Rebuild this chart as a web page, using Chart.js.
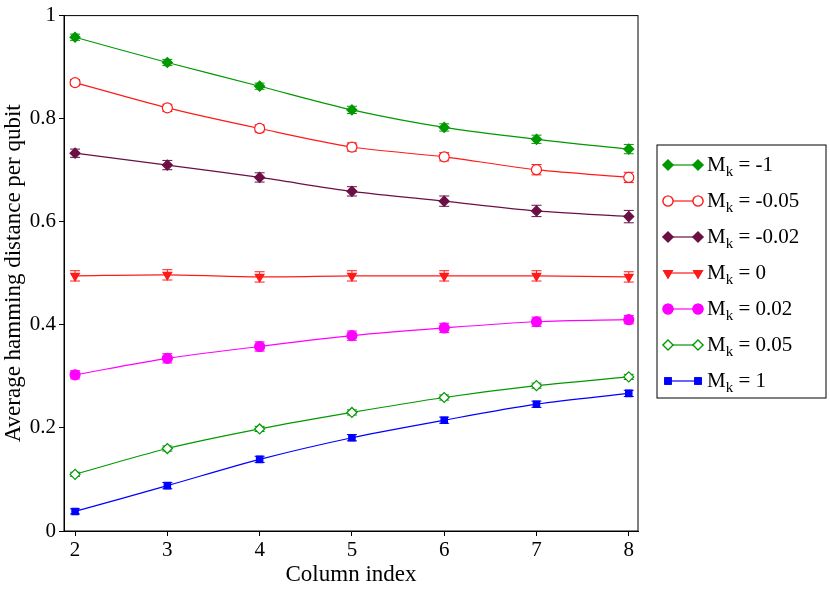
<!DOCTYPE html>
<html>
<head>
<meta charset="utf-8">
<script src="https://cdn.jsdelivr.net/npm/chart.js@4"></script>
<style>
  body { margin: 0; background: #fff; }
  #wrap { width: 830px; height: 589px; }
</style>
</head>
<body>
<div id="wrap"><canvas id="c"></canvas></div>
<script>
const columns = [2, 3, 4, 5, 6, 7, 8];
const labels = ["-1", "-0.05", "-0.02", "0", "0.02", "0.05", "1"];

const mNeg1 = [0.958, 0.909, 0.863, 0.817, 0.783, 0.760, 0.741];
const mNeg005 = [0.870, 0.821, 0.781, 0.745, 0.726, 0.701, 0.686];
const mNeg002 = [0.733, 0.710, 0.686, 0.659, 0.640, 0.621, 0.610];
const mZero = [0.495, 0.497, 0.493, 0.495, 0.495, 0.495, 0.493];
const mPos002 = [0.303, 0.335, 0.358, 0.379, 0.394, 0.406, 0.410];
const mPos005 = [0.110, 0.160, 0.198, 0.230, 0.259, 0.282, 0.299];
const mPos1 = [0.038, 0.088, 0.139, 0.181, 0.215, 0.246, 0.267];

const errNeg1 = [0.006, 0.006, 0.006, 0.007, 0.007, 0.008, 0.009];
const errNeg005 = [0.006, 0.007, 0.007, 0.008, 0.008, 0.010, 0.010];
const errNeg002 = [0.008, 0.009, 0.009, 0.009, 0.010, 0.011, 0.012];
const errZero = [0.010, 0.010, 0.010, 0.010, 0.010, 0.010, 0.010];
const errPos002 = [0.008, 0.009, 0.009, 0.009, 0.009, 0.009, 0.008];
const errPos005 = [0.004, 0.005, 0.005, 0.005, 0.005, 0.005, 0.005];
const errPos1 = [0.005, 0.006, 0.006, 0.006, 0.006, 0.006, 0.006];

const series = [
  { v: mNeg1, e: errNeg1, color: "#009900", style: "rectRot", fill: true, r: 5 },
  { v: mNeg005, e: errNeg005, color: "#ff1a1a", style: "circle", fill: false, r: 5 },
  { v: mNeg002, e: errNeg002, color: "#6b0f45", style: "rectRot", fill: true, r: 5 },
  { v: mZero, e: errZero, color: "#ff1a1a", style: "triangle", fill: true, r: 5, rot: 180 },
  { v: mPos002, e: errPos002, color: "#ff00ff", style: "circle", fill: true, r: 5 },
  { v: mPos005, e: errPos005, color: "#009900", style: "rectRot", fill: false, r: 5 },
  { v: mPos1, e: errPos1, color: "#0000ff", style: "rect", fill: true, r: 4.5 },
];

const datasets = series.map((s, i) => ({
  label: "M_k = " + labels[i],
  data: columns.map((x, j) => ({ x: x, y: s.v[j], err: s.e[j] })),
  borderColor: s.color,
  borderWidth: 1.2,
  pointStyle: s.style,
  pointRadius: s.r,
  pointRotation: s.rot || 0,
  pointBackgroundColor: s.fill ? s.color : "#fff",
  pointBorderColor: s.color,
  pointBorderWidth: 1.2,
  fill: false,
  tension: 0.3,
}));

const errorBars = {
  id: "errorBars",
  beforeDatasetsDraw(chart) {
    const ctx = chart.ctx;
    const xs = chart.scales.x, ys = chart.scales.y;
    chart.data.datasets.forEach((ds) => {
      ctx.save();
      ctx.strokeStyle = ds.borderColor;
      ctx.lineWidth = 1;
      ds.data.forEach((p) => {
        const px = xs.getPixelForValue(p.x);
        const top = ys.getPixelForValue(p.y + p.err);
        const bot = ys.getPixelForValue(p.y - p.err);
        ctx.beginPath();
        ctx.moveTo(px, top); ctx.lineTo(px, bot);
        ctx.moveTo(px - 5, top); ctx.lineTo(px + 5, top);
        ctx.moveTo(px - 5, bot); ctx.lineTo(px + 5, bot);
        ctx.stroke();
      });
      ctx.restore();
    });
  },
  afterDraw(chart) {
    const ctx = chart.ctx;
    const a = chart.chartArea;
    ctx.save();
    ctx.strokeStyle = "#000";
    ctx.lineWidth = 1;
    ctx.strokeRect(a.left, a.top, a.right - a.left, a.bottom - a.top);
    // legend
    const lx = 657, ly = 145, lw = 169, lh = 253;
    ctx.fillStyle = "#fff";
    ctx.fillRect(lx, ly, lw, lh);
    ctx.strokeRect(lx, ly, lw, lh);
    const step = 36;
    series.forEach((s, i) => {
      const cy = ly + 20 + i * step;
      ctx.strokeStyle = s.color;
      ctx.lineWidth = 1.2;
      ctx.beginPath();
      ctx.moveTo(668, cy); ctx.lineTo(698, cy);
      ctx.stroke();
      [668, 698].forEach((mx) => {
        ctx.fillStyle = s.fill ? s.color : "#fff";
        Chart.helpers.drawPoint(ctx, {
          pointStyle: s.style, radius: s.r, rotation: s.rot || 0, borderWidth: 1.2,
        }, mx, cy);
        ctx.fill();
        ctx.stroke();
      });
      ctx.fillStyle = "#000";
      ctx.textBaseline = "middle";
      ctx.font = "21px 'Liberation Serif'";
      ctx.fillText("M", 707, cy);
      const mw = ctx.measureText("M").width;
      ctx.font = "15px 'Liberation Serif'";
      ctx.fillText("k", 707 + mw, cy + 7);
      const kw = ctx.measureText("k").width;
      ctx.font = "21px 'Liberation Serif'";
      ctx.fillText(" = " + labels[i], 707 + mw + kw, cy);
    });
    ctx.restore();
  },
};

new Chart(document.getElementById("c"), {
  type: "line",
  data: { datasets },
  options: {
    responsive: true,
    maintainAspectRatio: false,
    animation: false,
    layout: { padding: { top: -6, right: 192, left: 0, bottom: 0 } },
    plugins: { legend: { display: false }, tooltip: { enabled: false } },
    scales: {
      x: {
        type: "linear",
        min: 1.88,
        max: 8.1,
        afterFit: (s) => { s.height = 58; },
        ticks: {
          stepSize: 1,
          includeBounds: false,
          color: "#000",
          font: { family: "'Liberation Serif'", size: 21 },
          padding: 2,
        },
        grid: { drawOnChartArea: false, color: "#000", tickLength: 5 },
        border: { color: "#000" },
        title: {
          display: true,
          text: "Column index",
          color: "#000",
          font: { family: "'Liberation Serif'", size: 23 },
          padding: 0,
        },
      },
      y: {
        min: 0,
        max: 1,
        afterFit: (s) => { s.width = 64; },
        ticks: {
          stepSize: 0.2,
          color: "#000",
          font: { family: "'Liberation Serif'", size: 21 },
          padding: 3,
          callback: (v) => (v === 1 ? "1" : v === 0 ? "0" : v.toFixed(1)),
        },
        grid: { drawOnChartArea: false, color: "#000", tickLength: 5 },
        border: { color: "#000" },
        title: {
          display: true,
          text: "Average hamming distance per qubit",
          color: "#000",
          font: { family: "'Liberation Serif'", size: 23 },
          padding: 0,
        },
      },
    },
  },
  plugins: [errorBars],
});
</script>
</body>
</html>
